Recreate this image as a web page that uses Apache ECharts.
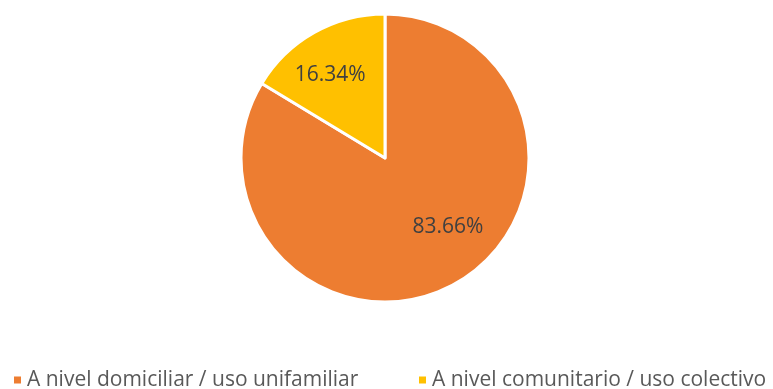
<!DOCTYPE html>
<html>
<head>
<meta charset="utf-8">
<script src="https://cdn.jsdelivr.net/npm/echarts@6/dist/echarts.min.js"></script>
<style>
  html, body { margin: 0; padding: 0; background: #fff; }
  #chart { width: 773px; height: 389px; }
</style>
</head>
<body>
<div id="chart"></div>
<script>
// Share of installations by scope of use (percent)
const categories = ['A nivel domiciliar / uso unifamiliar', 'A nivel comunitario / uso colectivo'];
const values = [83.66, 16.34];
const colors = ['#ED7D31', '#FFC000'];
const labelOffsets = [[26, 4], [-18, -18]];
const legendLefts = [12, 417];

const FONT = '"Open Sans", sans-serif';

const legendBase = {
  top: 368,
  padding: 0,
  itemWidth: 9,
  itemHeight: 9,
  icon: 'rect',
  textStyle: { fontFamily: FONT, fontSize: 21, lineHeight: 24, color: '#595959' }
};

const chart = echarts.init(document.getElementById('chart'));
chart.setOption({
  animation: false,
  legend: categories.map((name, i) => Object.assign({}, legendBase, {
    left: legendLefts[i],
    data: [name]
  })),
  series: [{
    type: 'pie',
    center: [385, 158],
    radius: [0, 144],
    startAngle: 90,
    clockwise: true,
    labelLine: { show: false },
    itemStyle: { borderColor: '#fff', borderWidth: 3 },
    label: {
      show: true,
      position: 'inside',
      fontFamily: FONT,
      fontSize: 21,
      color: '#404040',
      formatter: p => p.value.toFixed(2) + '%'
    },
    emphasis: { disabled: true },
    data: categories.map((name, i) => ({
      name,
      value: values[i],
      itemStyle: { color: colors[i] },
      label: { offset: labelOffsets[i] }
    }))
  }]
});
</script>
</body>
</html>
